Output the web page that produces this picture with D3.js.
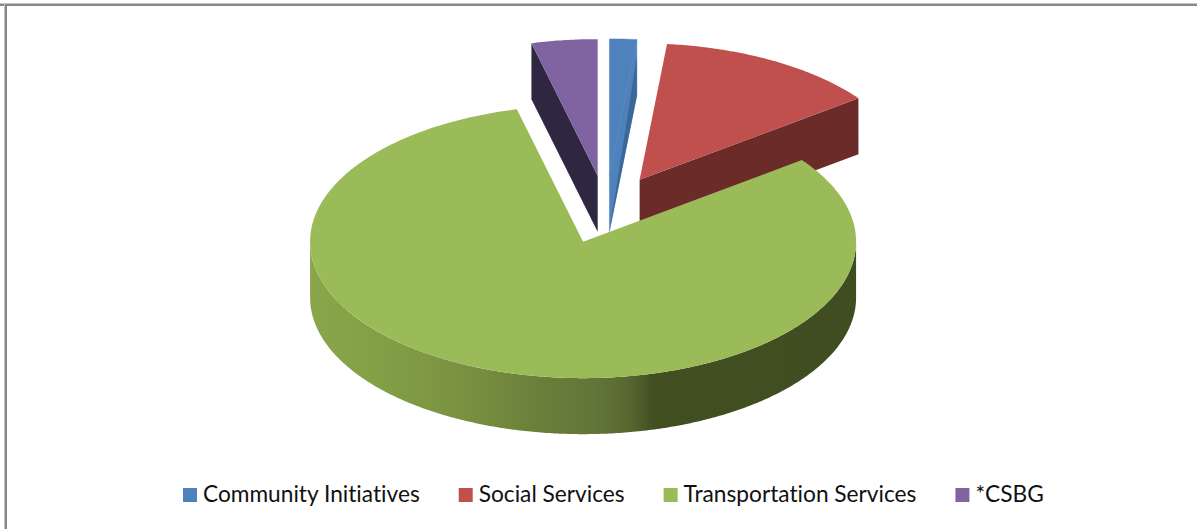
<!DOCTYPE html>
<html>
<head>
<meta charset="utf-8">
<script src="https://cdn.jsdelivr.net/npm/d3@7/dist/d3.min.js"></script>
<style>
  html, body { margin: 0; padding: 0; background: #fff; overflow: hidden; }
  svg { display: block; }
</style>
</head>
<body>
<svg id="chart" width="1197" height="529"></svg>
<script>
// Funding share by program area
const categories = ["Community Initiatives", "Social Services", "Transportation Services", "*CSBG"];
const shares = [1.6, 13.2, 81.3, 3.9];
const faceColors = ["#4f81bd", "#c0504d", "#9bbb59", "#8064a2"];
const wallColors = ["#3c6897", "#6b2b29", "#404d20", "#2f2642"];

const width = 1197, height = 529;
const svg = d3.select("#chart");

// Frame: only the top and left rules are drawn
svg.append("rect").attr("x", 0).attr("y", 3).attr("width", width).attr("height", 1).attr("fill", "#c4c4c4");
svg.append("rect").attr("x", 0).attr("y", 4).attr("width", width).attr("height", 2).attr("fill", "#878787");
svg.append("rect").attr("x", 4).attr("y", 3).attr("width", 1).attr("height", height).attr("fill", "#c4c4c4");
svg.append("rect").attr("x", 5).attr("y", 4).attr("width", 2).attr("height", height).attr("fill", "#878787");

// Tilted pie geometry
const cx = 606, cy = 209.5, rx = 273, ry = 136.5, thickness = 56, explode = 0.25;

const arcs = d3.pie().sort(null).value(d => d).startAngle(0).endAngle(2 * Math.PI)(shares);

// Projects a polar position on the tilted disc; angle is clockwise from twelve o'clock
function project(slice, angle, radius, drop) {
  const mid = (slice.startAngle + slice.endAngle) / 2;
  return [
    cx + rx * (explode * Math.sin(mid) + radius * Math.sin(angle)),
    cy - ry * (explode * Math.cos(mid) + radius * Math.cos(angle)) + thickness * drop
  ];
}

const rimAngles = (a0, a1) => {
  const n = Math.max(2, Math.ceil(Math.abs(a1 - a0) / 0.01));
  return d3.range(n + 1).map(i => a0 + (a1 - a0) * i / n);
};

const polygon = d3.line().curve(d3.curveLinearClosed);

function facePath(slice) {
  const rim = rimAngles(slice.startAngle, slice.endAngle).map(a => project(slice, a, 1, 0));
  return polygon([project(slice, 0, 0, 0), ...rim]);
}

// Flat cut wall along one radial edge; rimDrop/apexDrop set where its upper edge sits
function wallPath(slice, angle, rimDrop, apexDrop) {
  return polygon([
    project(slice, 0, 0, apexDrop),
    project(slice, angle, 1, rimDrop),
    project(slice, angle, 1, 1),
    project(slice, 0, 0, 1)
  ]);
}

// Outer curved wall from the right extreme round the front to the left extreme
function outerWallPath(slice, a0, a1) {
  const top = rimAngles(a0, a1).map(a => project(slice, a, 1, 0));
  const bottom = rimAngles(a1, a0).map(a => project(slice, a, 1, 1));
  return polygon([...top, ...bottom]);
}

const [community, social, transport, csbg] = arcs;
const pie = svg.append("g").attr("class", "pie");

// Shading across the front wall of the large slice
const defs = svg.append("defs");
const gradient = defs.append("linearGradient")
  .attr("id", "frontWall")
  .attr("gradientUnits", "userSpaceOnUse")
  .attr("x1", project(transport, 1.5 * Math.PI, 1, 0)[0]).attr("y1", 0)
  .attr("x2", project(transport, 0.5 * Math.PI, 1, 0)[0]).attr("y2", 0);
[[0, "#8aa64a"], [0.12, "#83a046"], [0.28, "#7a9141"], [0.42, "#6a7f3a"], [0.52, "#62753a"],
 [0.58, "#586a31"], [0.63, "#424f21"], [1, "#404d20"]]
  .forEach(([o, c]) => gradient.append("stop").attr("offset", o).attr("stop-color", c));

// Back slices: cut walls first, then the top faces
pie.append("path").attr("d", wallPath(csbg, csbg.startAngle, 0, 0)).attr("fill", wallColors[3]);
pie.append("path").attr("d", facePath(csbg)).attr("fill", faceColors[3]);

pie.append("path").attr("d", wallPath(community, community.endAngle, 0, 0))
  .attr("fill", faceColors[0]).attr("stroke", faceColors[0]).attr("stroke-width", 0.5);
pie.append("path").attr("d", facePath(community))
  .attr("fill", faceColors[0]).attr("stroke", faceColors[0]).attr("stroke-width", 0.5);
pie.append("path").attr("d", wallPath(community, community.endAngle, 0.3, 1)).attr("fill", wallColors[0]);

pie.append("path").attr("d", wallPath(social, social.endAngle, 0, 0)).attr("fill", wallColors[1]);
pie.append("path").attr("d", facePath(social)).attr("fill", faceColors[1]);

// Large slice sits in front and overlaps the red wall
pie.append("path").attr("d", outerWallPath(transport, 0.5 * Math.PI, 1.5 * Math.PI)).attr("fill", "url(#frontWall)");
pie.append("path").attr("d", facePath(transport)).attr("fill", faceColors[2]);

// Legend, laid out left to right from the measured label widths
const legend = svg.append("g").attr("class", "legend");
let x = 183;
categories.forEach((name, i) => {
  legend.append("rect").attr("x", x).attr("y", 488).attr("width", 14).attr("height", 14).attr("fill", faceColors[i]);
  const label = legend.append("text")
    .attr("x", x + 20).attr("y", 502)
    .attr("font-family", "Lato, 'Open Sans', sans-serif")
    .attr("font-size", 22.7)
    .attr("fill", "#111")
    .style("font-variant-ligatures", "none")
    .text(name);
  x += 20 + label.node().getComputedTextLength() + 39;
});
</script>
</body>
</html>
